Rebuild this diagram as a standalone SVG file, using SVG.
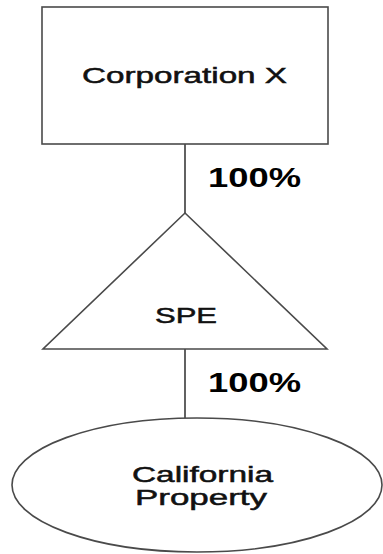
<svg xmlns="http://www.w3.org/2000/svg" width="383" height="554" viewBox="0 0 383 554">
<style>
.shape{fill:#fff;stroke:#4a4a4a;stroke-width:1.6}
.conn{stroke:#3a3a3a;stroke-width:1.6;fill:none}
.lbl{font-family:"Liberation Sans",Arial,sans-serif;font-size:22px;fill:#111;stroke:#111;stroke-width:0.5}
.pct{font-family:"Liberation Sans",Arial,sans-serif;font-size:28px;font-weight:bold;fill:#000}
</style>
<rect width="383" height="554" fill="#fff"/>
<g id="connectors">
<line class="conn" x1="185" y1="144" x2="185" y2="213"/>
<line class="conn" x1="185" y1="349" x2="185" y2="418"/>
<text class="pct" x="208" y="187" textLength="93" lengthAdjust="spacingAndGlyphs">100%</text>
<text class="pct" x="208" y="392" textLength="93" lengthAdjust="spacingAndGlyphs">100%</text>
</g>
<g id="corporation-x">
<rect class="shape" x="42" y="7" width="286" height="137"/>
<text class="lbl" x="82" y="83" textLength="205" lengthAdjust="spacingAndGlyphs">Corporation X</text>
</g>
<g id="spe">
<polygon class="shape" points="185,213 327,349 43,349"/>
<text class="lbl" x="155" y="323" textLength="62" lengthAdjust="spacingAndGlyphs">SPE</text>
</g>
<g id="california-property">
<ellipse class="shape" cx="197" cy="485" rx="185" ry="67"/>
<text class="lbl" x="132" y="482" textLength="141" lengthAdjust="spacingAndGlyphs">California</text>
<text class="lbl" x="135" y="505" textLength="132" lengthAdjust="spacingAndGlyphs">Property</text>
</g>
</svg>
